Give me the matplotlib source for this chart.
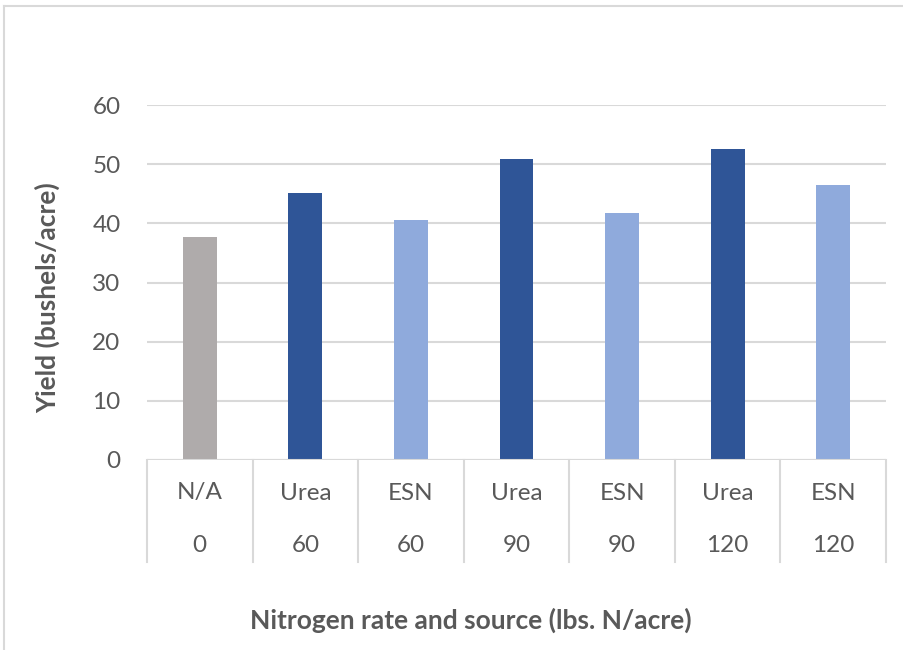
import matplotlib
matplotlib.use("Agg")
import matplotlib.pyplot as plt

plt.rcParams["font.family"] = ["Lato", "DejaVu Sans"]

# Data
sources = ["N/A", "Urea", "ESN", "Urea", "ESN", "Urea", "ESN"]
rates = ["0", "60", "60", "90", "90", "120", "120"]
yields = [37.7, 45.1, 40.5, 50.8, 41.7, 52.5, 46.4]
y_ticks = [0, 10, 20, 30, 40, 50, 60]

source_colors = {"N/A": "#AFABAB", "Urea": "#2F5597", "ESN": "#8FAADC"}
text_col = "#595959"
line_col = "#D9D9D9"

W, H = 904, 650
fig = plt.figure(figsize=(W / 100, H / 100), dpi=100)

# outer chart border (only top/left visible in the crop)
fig.add_artist(plt.Line2D([4 / W, 4 / W], [0, 1 - 6 / H], color=line_col, lw=1.5))
fig.add_artist(plt.Line2D([4 / W, 1], [1 - 6 / H, 1 - 6 / H], color=line_col, lw=1.5))

left, right, top, bottom = 147, 886, 105, 460
ax = fig.add_axes([left / W, 1 - bottom / H, (right - left) / W, (bottom - top) / H])

x = range(len(yields))
ax.bar(x, yields, width=0.32, color=[source_colors[s] for s in sources], zorder=3)

ax.set_xlim(-0.5, len(yields) - 0.5)
ax.set_ylim(0, 60)
ax.set_yticks(y_ticks)
ax.set_yticklabels([str(t) for t in y_ticks], fontsize=17.5, color=text_col)
ax.tick_params(axis="y", length=0, pad=19)
ax.set_xticks([])
ax.grid(axis="y", color=line_col, lw=1.5, zorder=0)
for s in ax.spines.values():
    s.set_visible(False)
ax.axhline(0, color=line_col, lw=1.5, zorder=4)

# two-level category labels with separators
tr = ax.get_xaxis_transform()
ph = bottom - top
sep_bottom = -(562 - bottom) / ph
for i in range(len(yields) + 1):
    ax.plot([i - 0.5, i - 0.5], [0, sep_bottom], transform=tr, color=line_col,
            lw=1.5, clip_on=False)
for i, (s, r) in enumerate(zip(sources, rates)):
    ax.text(i, -(493 - bottom) / ph, s, transform=tr, ha="center", va="center",
            fontsize=17.5, color=text_col)
    ax.text(i, -(545 - bottom) / ph, r, transform=tr, ha="center", va="center",
            fontsize=17.5, color=text_col)

fig.text(471 / W, 1 - 620 / H, "Nitrogen rate and source (lbs. N/acre)", ha="center",
         va="center", fontsize=19, fontweight="bold", color=text_col)
fig.text(48 / W, 1 - 298 / H, "Yield (bushels/acre)", ha="center", va="center",
         rotation=90, fontsize=19, fontweight="bold", color=text_col)

fig.savefig("out.png", dpi=100)
